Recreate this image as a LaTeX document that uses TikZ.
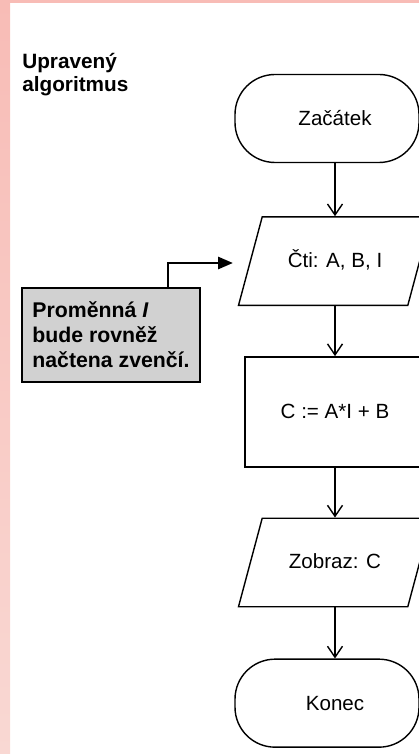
\documentclass[tikz,border=0pt]{standalone}
\usepackage{fontspec}
\setmainfont{Liberation Sans}
\usetikzlibrary{positioning, shapes.geometric, arrows.meta}

\definecolor{scanpink}{RGB}{248,188,182}
\definecolor{scanpinklight}{RGB}{249,216,211}
\newcommand{\flowfont}{\fontsize{11.7}{14}\selectfont}
\newcommand{\notefont}{\fontsize{12.1}{14.2}\selectfont\bfseries}
\newcommand{\titlefont}{\fontsize{11.8}{13.1}\selectfont\bfseries}

\begin{document}
\begin{tikzpicture}[
    terminal/.style={draw, rectangle, rounded corners=0.8cm, thick, minimum width=3.68cm, minimum height=1.76cm, font=\flowfont},
    io/.style={draw, trapezium, trapezium left angle=75, trapezium right angle=105, trapezium stretches body=true, thick,
      inner ysep=0pt, text height=1.01cm, text depth=0.76cm, minimum width=3.86cm, font=\flowfont},
    process/.style={draw, rectangle, thick, minimum width=3.6cm, minimum height=2.2cm, font=\flowfont},
    note/.style={draw, line width=1.6pt, fill=black!18, align=left, minimum width=3.56cm, minimum height=1.88cm, inner sep=0.15cm, font=\notefont},
    arr/.style={-{Straight Barb[length=0.22cm,width=0.3cm]}, thick},
    notearr/.style={-{Triangle[length=0.3cm,width=0.24cm]}, line width=1.6pt},
  ]
  \useasboundingbox (0,0) rectangle (8.38,-15.08);
  \clip (0,0) rectangle (8.38,-15.08);

  % scan margins
  \shade[top color=scanpink, bottom color=scanpinklight] (0,0) rectangle (0.2,-15.08);
  \fill[scanpink] (0,0) rectangle (8.38,-0.06);

  % heading
  \node[anchor=north west, align=left, inner sep=0, font=\titlefont] (title) at (0.44,-1.05) {Upravený\\algoritmus};

  % flow
  \node[terminal] (start) at (6.54,-2.37) {\hspace*{0.32cm}Začátek};
  \node[io, below=1.06cm of start, xshift=0.16cm] (read) {Čti: A, B, I};
  \node[process, below=1.0cm of read] (calc) {C := A*I + B};
  \node[io, below=1.0cm of calc] (show) {Zobraz: C};
  \node[terminal, below=1.02cm of show, xshift=-0.16cm] (stop) {\hspace*{0.32cm}Konec};

  \draw[arr] (start.south -| read.north) -- (read.north);
  \draw[arr] (read.south) -- (calc.north);
  \draw[arr] (calc.south) -- (show.north);
  \draw[arr] (show.south) -- (show.south |- stop.north);

  % remark
  \node[note] (note) at (2.22,-6.7) {Proměnná \textit{I}\\bude rovněž\\načtena zvenčí.};
  \coordinate (readin) at (4.66,-5.26);
  \draw[notearr] ([xshift=1.14cm]note.north) |- (readin);
\end{tikzpicture}
\end{document}
